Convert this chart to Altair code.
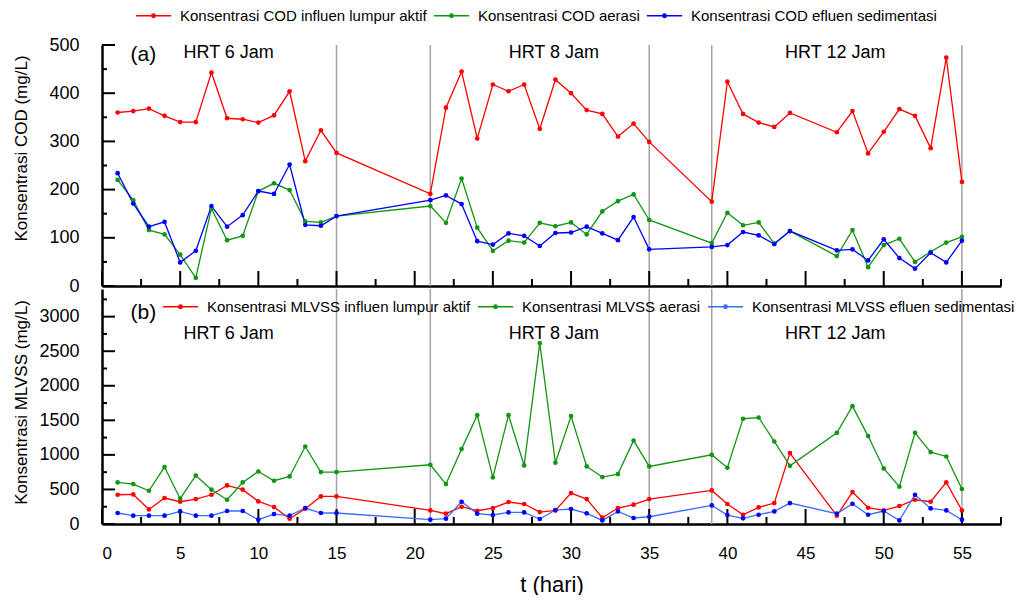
import altair as alt
import pandas as pd

FONT = "Liberation Sans"

# ---------------- data ----------------
days = [1, 2, 3, 4, 5, 6, 7, 8, 9, 10, 11, 12, 13, 14, 15,
        21, 22, 23, 24, 25, 26, 27, 28, 29, 30, 31, 32, 33, 34, 35,
        39, 40, 41, 42, 43, 44, 47, 48, 49, 50, 51, 52, 53, 54, 55]

cod_series = ["Konsentrasi COD influen lumpur aktif",
              "Konsentrasi COD aerasi",
              "Konsentrasi COD efluen sedimentasi"]
mlvss_series = ["Konsentrasi MLVSS influen lumpur aktif",
                "Konsentrasi MLVSS aerasi",
                "Konsentrasi MLVSS efluen sedimentasi"]

cod_influen = [360, 363, 368, 353, 340, 340, 443, 348, 346, 339, 354, 404, 259, 323, 276,
               191, 370, 445, 306, 418, 404, 418, 326, 428, 400, 365, 357, 310, 337, 299,
               175, 424, 357, 339, 330, 359, 319, 363, 275, 320, 367, 353, 286, 474, 216]
cod_aerasi = [220, 178, 116, 107, 65, 17, 161, 95, 104, 197, 213, 199, 134, 132, 145,
              166, 131, 223, 121, 73, 94, 90, 131, 124, 132, 107, 155, 176, 190, 137,
              89, 152, 126, 132, 88, 114, 62, 116, 39, 85, 98, 50, 71, 90, 102]
cod_efluen = [234, 171, 123, 133, 49, 73, 166, 123, 147, 197, 191, 252, 127, 125, 145,
              178, 188, 170, 93, 86, 109, 104, 83, 110, 111, 123, 109, 95, 143, 76,
              81, 85, 112, 105, 87, 114, 74, 76, 53, 97, 58, 36, 69, 49, 94]

mlvss_influen = [423, 428, 211, 376, 322, 361, 423, 558, 496, 327, 246, 77, 221, 399, 399,
                 197, 149, 250, 192, 231, 318, 289, 173, 197, 448, 361, 91, 231, 279, 361,
                 486, 289, 134, 240, 303, 1026, 120, 462, 235, 197, 260, 351, 322, 601, 197]
mlvss_aerasi = [601, 578, 481, 824, 366, 702, 496, 351, 601, 760, 626, 688, 1121, 751, 751,
                857, 578, 1084, 1575, 674, 1575, 847, 2616, 886, 1561, 833, 679, 722, 1208, 833,
                1001, 814, 1522, 1541, 1194, 842, 1319, 1705, 1272, 804, 539, 1319, 1040, 977, 506]
mlvss_efluen = [159, 120, 120, 120, 182, 120, 120, 188, 188, 62, 144, 120, 231, 159, 159,
                62, 77, 322, 149, 130, 168, 168, 72, 202, 217, 154, 52, 182, 87, 105,
                269, 130, 82, 134, 182, 303, 149, 293, 134, 188, 52, 423, 225, 197, 62]

hrt_boundaries = [15, 21, 35, 39, 55]
hrt_labels = ["HRT 6 Jam", "HRT 8 Jam", "HRT 12 Jam"]
hrt_label_day = [8.1, 28.9, 46.9]
hrt_label_cod = [483, 483, 483]
hrt_label_mlvss = [2745, 2745, 2745]
panel_tags = ["(a)", "(b)"]
panel_tag_day = [2.65, 2.65]
panel_tag_value = [479, 3058]

x_major_ticks = [0, 5, 10, 15, 20, 25, 30, 35, 40, 45, 50, 55]
x_minor_ticks = [2.5, 7.5, 12.5, 17.5, 22.5, 27.5, 32.5, 37.5, 42.5, 47.5, 52.5, 57.5]
cod_major_ticks = [0, 100, 200, 300, 400, 500]
cod_minor_ticks = [50, 150, 250, 350, 450]
mlvss_major_ticks = [0, 500, 1000, 1500, 2000, 2500, 3000]
mlvss_minor_ticks = [250, 750, 1250, 1750, 2250, 2750, 3250]

point_colors = ["#ff0000", "#129612", "#0000ff"]
cod_line_colors = ["#ff0000", "#129612", "#0000ff"]
mlvss_line_colors = ["#ff0000", "#129612", "#3a6ff2"]

# ---------------- layout constants ----------------
W = 899
H_A = 241
H_B = 235
X_DOMAIN = [0, 57.5]
LEGEND_PATH = ("M-4.4,0H4.4"
               "M-0.45,0A0.45,0.45,0,1,0,0.45,0A0.45,0.45,0,1,0,-0.45,0"
               "M-0.2,0A0.2,0.2,0,1,0,0.2,0A0.2,0.2,0,1,0,-0.2,0")


def long_df(series_names, arrays):
    rows = []
    for name, vals in zip(series_names, arrays):
        for d, v in zip(days, vals):
            rows.append({"day": d, "value": v, "series": name})
    return pd.DataFrame(rows)


def panel(df, series_names, line_colors, y_domain, y_major, y_minor, y_title, title_y,
          leg_x, leg_y, H, bottom, ann_y, tag, tag_day, tag_val):
    xs = alt.Scale(domain=X_DOMAIN, nice=False, zero=False)
    ys = alt.Scale(domain=y_domain, nice=False, zero=False)
    line_scale = alt.Scale(domain=series_names, range=line_colors)
    point_scale = alt.Scale(domain=series_names, range=point_colors)
    legend = alt.Legend(orient="none", legendX=leg_x, legendY=leg_y, direction="horizontal",
                        title=None, symbolType=LEGEND_PATH, symbolSize=64,
                        symbolStrokeWidth=1.3, labelFontSize=15, labelFont=FONT,
                        labelColor="black", labelOffset=19, columnPadding=4,
                        labelLimit=600, padding=0, rowPadding=0)

    if bottom:
        main_x = alt.Axis(orient="bottom", values=x_major_ticks, ticks=False,
                          labels=True, labelFontSize=17, labelFont=FONT, labelColor="black",
                          labelPadding=21, domain=True, domainColor="black", domainWidth=2.5,
                          grid=False, title="t (hari)", titleFontSize=22, titleFont=FONT,
                          titleFontWeight="normal", titleColor="black", titleY=60,
                          titleBaseline="middle")
    else:
        main_x = alt.Axis(orient="bottom", ticks=False, labels=False, domain=True,
                          domainColor="black", domainWidth=2.5, grid=False, title=None)

    main_y = alt.Axis(orient="left", values=y_major, format="d", ticks=False,
                      labelFontSize=18, labelFont=FONT, labelColor="black", labelPadding=23,
                      domain=True, domainColor="black", domainWidth=2.5, grid=False,
                      title=y_title, titleFontSize=17, titleFont=FONT,
                      titleFontWeight="normal", titleColor="black", titleX=-81,
                      titleY=title_y, titleAngle=270, titleAlign="center",
                      titleBaseline="middle")

    rules = alt.Chart(pd.DataFrame({"day": hrt_boundaries})).mark_rule(
        color="#a3a3a3", strokeWidth=1.5).encode(x=alt.X("day:Q", scale=xs, axis=None))

    # inward tick marks, placed through the scales
    xt_major = alt.Chart(pd.DataFrame({"t": x_major_ticks})).mark_rule(
        color="black", strokeWidth=2).encode(
        x=alt.X("t:Q", scale=xs, axis=None), y=alt.value(H), y2=alt.value(H - 15))
    xt_minor = alt.Chart(pd.DataFrame({"t": x_minor_ticks})).mark_rule(
        color="black", strokeWidth=2).encode(
        x=alt.X("t:Q", scale=xs, axis=None), y=alt.value(H), y2=alt.value(H - 7))
    yt_major = alt.Chart(pd.DataFrame({"t": y_major})).mark_rule(
        color="black", strokeWidth=2).encode(
        y=alt.Y("t:Q", scale=ys, axis=None), x=alt.value(0), x2=alt.value(13))
    yt_minor = alt.Chart(pd.DataFrame({"t": y_minor})).mark_rule(
        color="black", strokeWidth=2).encode(
        y=alt.Y("t:Q", scale=ys, axis=None), x=alt.value(0), x2=alt.value(5))

    lines = alt.Chart(df).mark_line(strokeWidth=1.3).encode(
        x=alt.X("day:Q", scale=xs, axis=main_x),
        y=alt.Y("value:Q", scale=ys, axis=main_y),
        color=alt.Color("series:N", scale=line_scale, legend=legend),
    )
    points = alt.Chart(df).mark_circle(size=22, opacity=1).encode(
        x=alt.X("day:Q", scale=xs, axis=None),
        y=alt.Y("value:Q", scale=ys, axis=None),
        fill=alt.Fill("series:N", scale=point_scale, legend=None),
    )

    ann_df = pd.DataFrame({"label": hrt_labels, "day": hrt_label_day, "value": ann_y})
    ann = alt.Chart(ann_df).mark_text(font=FONT, fontSize=18, color="black",
                                      align="center", baseline="middle").encode(
        x=alt.X("day:Q", scale=xs, axis=None),
        y=alt.Y("value:Q", scale=ys, axis=None),
        text="label:N")
    tag_df = pd.DataFrame({"label": [tag], "day": [tag_day], "value": [tag_val]})
    tag_layer = alt.Chart(tag_df).mark_text(font=FONT, fontSize=21, color="black",
                                            align="center", baseline="middle").encode(
        x=alt.X("day:Q", scale=xs, axis=None),
        y=alt.Y("value:Q", scale=ys, axis=None),
        text="label:N")

    return alt.layer(rules, xt_major, xt_minor, yt_major, yt_minor, lines, points,
                     ann, tag_layer).resolve_axis(
        x="independent", y="independent").properties(width=W, height=H)


df_cod = long_df(cod_series, [cod_influen, cod_aerasi, cod_efluen])
df_mlvss = long_df(mlvss_series, [mlvss_influen, mlvss_aerasi, mlvss_efluen])

top = panel(df_cod, cod_series, cod_line_colors, [0, 500], cod_major_ticks, cod_minor_ticks,
            "Konsentrasi COD (mg/L)", 103, 44, -37, H_A, False,
            hrt_label_cod, panel_tags[0], panel_tag_day[0], panel_tag_value[0])
bottom = panel(df_mlvss, mlvss_series, mlvss_line_colors, [0, 3400], mlvss_major_ticks,
               mlvss_minor_ticks, "Konsentrasi MLVSS (mg/L)", 113, 71, 10, H_B, True,
               hrt_label_mlvss, panel_tags[1], panel_tag_day[1], panel_tag_value[1])

chart = alt.vconcat(top, bottom, spacing=3, bounds="flush").resolve_scale(
    color="independent", fill="independent").properties(
    padding={"left": 4, "top": 0, "right": 0, "bottom": 0}
).configure_view(stroke=None)

chart.save("out.html", embed_options={"renderer": "svg", "actions": False})
